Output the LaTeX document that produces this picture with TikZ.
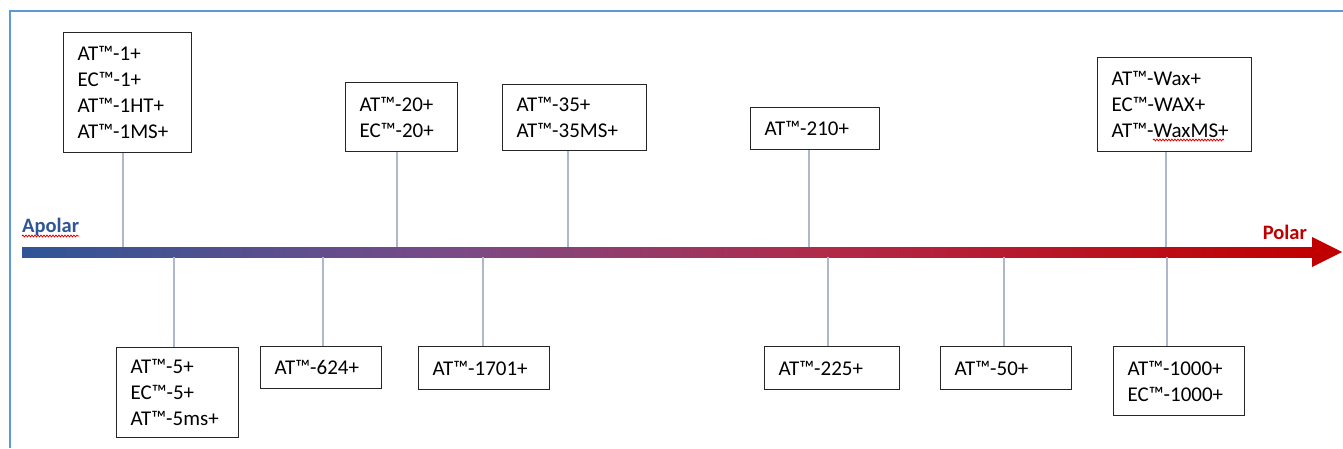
\documentclass[tikz,border=0pt]{standalone}
\usepackage{fontspec}
\setmainfont{Carlito}
\usepackage{xcolor}
\usepackage{tikz}
\usetikzlibrary{decorations.pathmorphing}

\definecolor{apolarblue}{HTML}{2F5597}
\definecolor{midpurple}{HTML}{7B4A86}
\definecolor{crimson}{HTML}{B02A4A}
\definecolor{polarred}{HTML}{C00000}
\definecolor{stemgray}{HTML}{ADB9CA}
\definecolor{frameblue}{HTML}{5B9BD5}

% the path is mapped onto 25bp--75bp of the shading
\pgfdeclarehorizontalshading{polarity}{100bp}{color(0bp)=(apolarblue); color(25bp)=(apolarblue); color(42bp)=(midpurple); color(56bp)=(crimson); color(75bp)=(polarred); color(100bp)=(polarred)}

\tikzset{
  prod/.style={draw=black!85, line width=1.3pt, anchor=north west, align=left,
    inner xsep=14pt, inner ysep=0pt, font=\fontsize{21}{26}\selectfont},
  stem/.style={draw=stemgray, line width=2.6pt},
  axislabel/.style={font=\bfseries\fontsize{20.5}{22}\selectfont, inner sep=0pt},
  squiggle/.style={draw=red!85!black, line width=0.8pt,
    decorate, decoration={snake, segment length=3pt, amplitude=0.9pt}}
}

\begin{document}
\begin{tikzpicture}[x=1pt, y=-1pt]
        \useasboundingbox (0,0) rectangle (1343,448);
        % Frame
        \draw[frameblue, line width=2pt] (10,448) -- (10,11) -- (1343,11);
        % Axis
        \shade[shading=polarity] (22,247) rectangle (1313,257);
        \fill[polarred] (1312,237) -- (1342,252) -- (1312,267) -- cycle;
        \node[axislabel, text=apolarblue, anchor=base west] (apolar) at (22,232) {Apolar};
        \node[axislabel, text=polarred, anchor=base east] (polar) at (1307,239) {Polar};
        \draw[squiggle] ([yshift=-4pt]apolar.base west) -- ([yshift=-4pt]apolar.base east);
        % Boxes above
        \node[prod, text width=100pt, minimum height=120pt] (at1) at (63,32)
          {AT™-1+\\EC™-1+\\AT™-1HT+\\AT™-1MS+};
        \node[prod, text width=84pt, minimum height=69pt] (at20) at (345,82)
          {AT™-20+\\EC™-20+};
        \node[prod, text width=116pt, minimum height=66pt] (at35) at (502,84)
          {AT™-35+\\AT™-35MS+};
        \node[prod, text width=101pt, minimum height=42pt] (at210) at (750,107)
          {AT™-210+};
        \node[prod, text width=126pt, minimum height=94pt] (atwax) at (1097,57)
          {AT™-Wax+\\EC™-WAX+\\AT™-WaxMS+};
        \draw[squiggle] (1153,140) -- (1224,140);
        % Boxes below
        \node[prod, text width=94pt, minimum height=90pt] (at5) at (116,347)
          {AT™-5+\\EC™-5+\\AT™-5ms+};
        \node[prod, text width=93pt, minimum height=42pt] (at624) at (260,346)
          {AT™-624+};
        \node[prod, text width=103pt, minimum height=43pt] (at1701) at (418,346)
          {AT™-1701+};
        \node[prod, text width=107pt, minimum height=43pt] (at225) at (764,346)
          {AT™-225+};
        \node[prod, text width=103pt, minimum height=43pt] (at50) at (940,346)
          {AT™-50+};
        \node[prod, text width=103pt, minimum height=69pt] (at1000) at (1113,346)
          {AT™-1000+\\EC™-1000+};
        % Stems
        \foreach \n/\x in {at1/123, at20/397, at35/568, at210/809, atwax/1166}
          \draw[stem] (\n.south -| \x,0) -- (\x,247);
        \foreach \n/\x in {at5/174, at624/323, at1701/483, at225/828, at50/1004, at1000/1167}
          \draw[stem] (\x,257) -- (\n.north -| \x,0);
      \end{tikzpicture}
\end{document}
